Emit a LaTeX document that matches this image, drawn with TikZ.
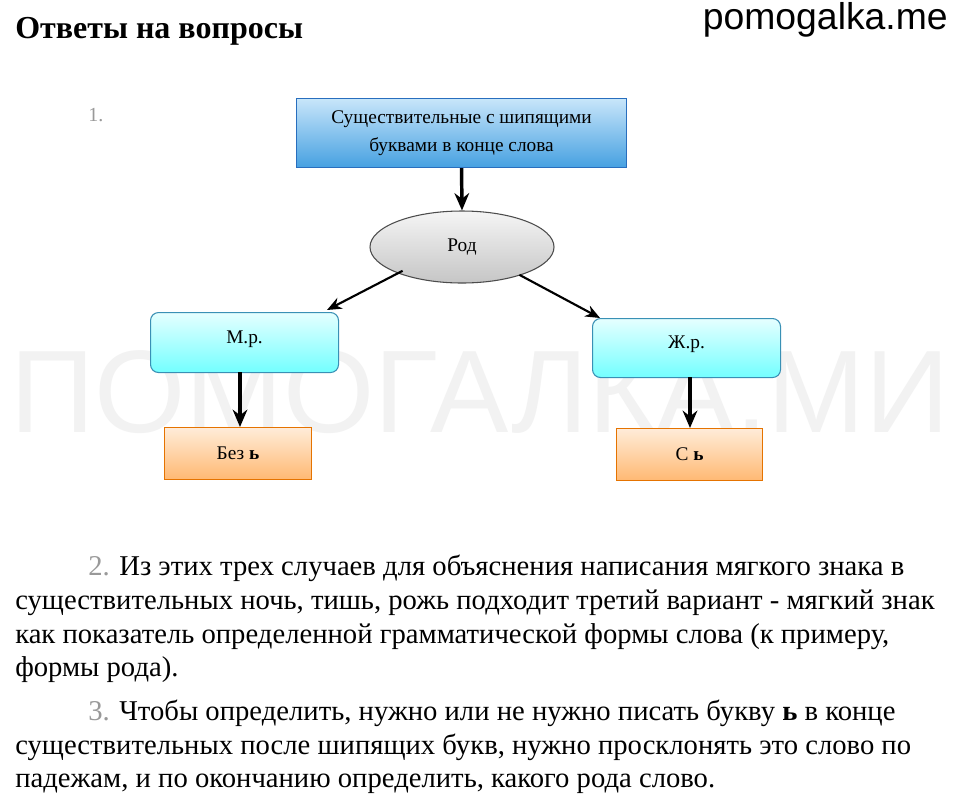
\documentclass[tikz,border=0pt]{standalone}
\usepackage{fontspec}
\setmainfont{Liberation Serif}
\newfontfamily\wmfont{Liberation Sans}
\usetikzlibrary{shapes.geometric,arrows.meta}
\definecolor{topdraw}{RGB}{40,110,190}
\definecolor{toptop}{RGB}{200,230,250}
\definecolor{topbot}{RGB}{70,160,225}
\begin{document}
\begin{tikzpicture}[x=0.75pt,y=-0.75pt,
  box/.style={draw=#1!70!black,line width=0.8pt,inner sep=0pt,anchor=north west,font=\fontsize{14.5}{21}\selectfont},
  arr/.style={line width=2.6pt,-{Stealth[length=13pt,width=11pt]}},
  sarr/.style={line width=1.6pt,-{Stealth[length=11pt,width=9pt]}},
  body/.style={anchor=base west,inner sep=0pt,font=\fontsize{21.5}{24}\selectfont},
  num/.style={text=gray!80}]
\useasboundingbox (0,0) rectangle (960,797);
\fill[white] (0,0) rectangle (960,797);
% watermark
\node[text=gray!10,font=\wmfont\fontsize{88}{90}\selectfont,inner sep=0pt] (wm) at (480,392) {ПОМОГАЛКА.МИ};
\node[anchor=north east,inner sep=0pt,font=\wmfont\fontsize{28}{30}\selectfont] (site) at (948,2) {pomogalka.me};
\node[anchor=base west,inner sep=0pt,font=\bfseries\fontsize{24}{26}\selectfont] (title) at (15,38) {Ответы на вопросы};
\node[num,anchor=base west,inner sep=0pt,font=\fontsize{15}{16}\selectfont] (n1) at (88,121) {1.};
% diagram
\node[box=blue,draw=topdraw,top color=toptop,bottom color=topbot,minimum width=330*0.75pt,minimum height=69*0.75pt,align=center] (top) at (296,98) {Существительные с шипящими\\буквами в конце слова};
\node[ellipse,draw=gray!60!black,line width=0.8pt,top color=gray!8,bottom color=gray!45,minimum width=184*0.75pt,minimum height=72*0.75pt,font=\fontsize{14.5}{16}\selectfont] (rod) at (462,247) {Род};
\node[box=cyan,rounded corners=6pt,top color=cyan!10,bottom color=cyan!55,minimum width=188*0.75pt,minimum height=60*0.75pt,text depth=9pt,text height=10pt] (m) at (150,312) {М.р.};
\node[box=cyan,rounded corners=6pt,top color=cyan!10,bottom color=cyan!55,minimum width=188*0.75pt,minimum height=59*0.75pt,text depth=9pt,text height=10pt] (z) at (592,318) {Ж.р.};
\node[box=orange,draw=orange!90!black,top color=orange!15,bottom color=orange!55,minimum width=147*0.75pt,minimum height=52*0.75pt] (bez) at (164,427) {Без \textbf{ь}};
\node[box=orange,draw=orange!90!black,top color=orange!15,bottom color=orange!55,minimum width=146*0.75pt,minimum height=52*0.75pt] (s) at (616,428) {С \textbf{ь}};
\draw[arr] (top.south) -- (rod.north);
\draw[sarr] (rod.south west) ++(6,-2) coordinate (a1) -- (327,310) coordinate (a2);
\draw[sarr] (rod.south east) ++(-8,2) coordinate (b1) -- (600,318) coordinate (b2);
\draw[arr] (240,372) -- (bez.north-|240,0);
\draw[arr] (690,377) -- (s.north-|690,0);
% text
\node[body] (l1) at (88,575) {\textcolor{gray!80}{2.} Из этих трех случаев для объяснения написания мягкого знака в};
\node[body] (l2) at (15,609) {существительных ночь, тишь, рожь подходит третий вариант - мягкий знак};
\node[body] (l3) at (15,643) {как показатель определенной грамматической формы слова (к примеру,};
\node[body] (l4) at (15,676) {формы рода).};
\node[body] (l5) at (88,720) {\textcolor{gray!80}{3.} Чтобы определить, нужно или не нужно писать букву \textbf{ь} в конце};
\node[body] (l6) at (15,754) {существительных после шипящих букв, нужно просклонять это слово по};
\node[body] (l7) at (15,787) {падежам, и по окончанию определить, какого рода слово.};
\end{tikzpicture}
\end{document}
